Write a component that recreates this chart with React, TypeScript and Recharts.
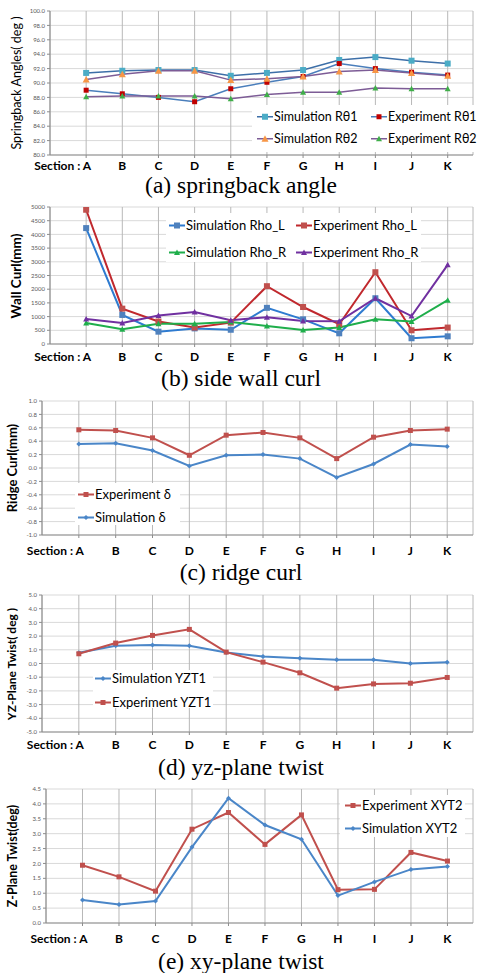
import React from 'react';
import { LineChart, Line, XAxis, YAxis, CartesianGrid } from 'recharts';

const sections = ['A', 'B', 'C', 'D', 'E', 'F', 'G', 'H', 'I', 'J', 'K'];

// (a) springback angle
const simR1 = [91.4, 91.7, 91.8, 91.8, 91.0, 91.4, 91.8, 93.2, 93.6, 93.1, 92.7];
const expR1 = [89.0, 88.5, 88.0, 87.4, 89.2, 90.1, 90.9, 92.7, 92.0, 91.5, 91.1];
const simR2 = [90.5, 91.2, 91.7, 91.7, 90.4, 90.6, 90.9, 91.6, 91.8, 91.4, 91.0];
const expR2 = [88.1, 88.2, 88.2, 88.2, 87.8, 88.4, 88.7, 88.7, 89.3, 89.2, 89.2];
const ticksA = [80, 82, 84, 86, 88, 90, 92, 94, 96, 98, 100];

// (b) side wall curl
const simRhoL = [4230, 1060, 450, 570, 520, 1320, 900, 390, 1670, 210, 280];
const expRhoL = [4900, 1290, 820, 600, 780, 2110, 1350, 720, 2620, 500, 600];
const simRhoR = [770, 540, 740, 740, 800, 660, 510, 600, 900, 820, 1600];
const expRhoR = [910, 770, 1040, 1170, 870, 980, 840, 830, 1670, 1020, 2890];
const ticksB = [0, 500, 1000, 1500, 2000, 2500, 3000, 3500, 4000, 4500, 5000];

// (c) ridge curl
const expDelta = [0.57, 0.56, 0.45, 0.19, 0.49, 0.53, 0.45, 0.14, 0.46, 0.56, 0.58];
const simDelta = [0.36, 0.37, 0.26, 0.03, 0.19, 0.2, 0.14, -0.14, 0.06, 0.35, 0.32];
const ticksC = [-1, -0.8, -0.6, -0.4, -0.2, 0, 0.2, 0.4, 0.6, 0.8, 1];

// (d) yz-plane twist
const simYZT1 = [0.78, 1.29, 1.35, 1.29, 0.8, 0.51, 0.39, 0.27, 0.27, 0.0, 0.1];
const expYZT1 = [0.71, 1.49, 2.05, 2.49, 0.83, 0.1, -0.68, -1.8, -1.49, -1.44, -1.02];
const ticksD = [-5, -4, -3, -2, -1, 0, 1, 2, 3, 4, 5];

// (e) xy-plane twist
const expXYT2 = [1.94, 1.55, 1.07, 3.15, 3.71, 2.64, 3.63, 1.12, 1.13, 2.37, 2.08];
const simXYT2 = [0.77, 0.62, 0.74, 2.55, 4.19, 3.29, 2.81, 0.92, 1.38, 1.8, 1.9];
const ticksE = [0, 0.5, 1, 1.5, 2, 2.5, 3, 3.5, 4, 4.5];

const FONT = 'Lato, "Open Sans", "DejaVu Sans", sans-serif';

type Shape = 'square' | 'triangle' | 'diamond';

const Marker = ({ cx, cy, shape, color, size }: any) => {
  if (cx == null || cy == null) return null;
  const s = size / 2;
  if (shape === 'square') {
    return <rect x={cx - s} y={cy - s} width={size} height={size} fill={color} />;
  }
  if (shape === 'triangle') {
    const pts = `${cx},${cy - s - 0.5} ${cx + s + 0.5},${cy + s} ${cx - s - 0.5},${cy + s}`;
    return <polygon points={pts} fill={color} />;
  }
  const pts = `${cx},${cy - s} ${cx + s},${cy} ${cx},${cy + s} ${cx - s},${cy}`;
  return <polygon points={pts} fill={color} />;
};

interface Series {
  key: string;
  name: string;
  values: number[];
  line: string;
  marker: string;
  shape: Shape;
  size: number;
  width: number;
}

interface LegendItem {
  key: string;
  x: number;
  y: number;
}

interface PanelProps {
  top: number;
  bottom: number;
  left: number;
  right: number;
  domain: [number, number];
  ticks: number[];
  fmt: (v: number) => string;
  yLabel: string;
  yLabelX: number;
  yLabelBold: boolean;
  yLabelSize: number;
  series: Series[];
  legendBox: { x: number; y: number; w: number; h: number };
  legendItems: LegendItem[];
  legendFont: number;
  labelY: number;
  caption: string;
  captionY: number;
}

const Panel = (p: PanelProps) => {
  const plotH = p.bottom - p.top;
  const mTop = 5;
  const xh = 24;
  const h = mTop + plotH + xh;
  const data = sections.map((s, i) => {
    const row: any = { idx: i, sec: s };
    p.series.forEach(se => (row[se.key] = se.values[i]));
    return row;
  });
  const labelLocal = mTop + plotH + (p.labelY - p.bottom);

  const SectionTick = (t: any) => {
    const v = t.payload.value;
    const common = {
      y: labelLocal,
      fontFamily: FONT,
      fontWeight: 700,
      fontSize: 12,
      fill: '#000',
      dominantBaseline: 'central' as const,
    };
    if (v === 0) {
      return (
        <text x={t.x + 5} textAnchor="end" {...common}>
          Section : A
        </text>
      );
    }
    return (
      <text x={t.x} textAnchor="middle" {...common}>
        {sections[v]}
      </text>
    );
  };

  const yMid = (p.top + p.bottom) / 2;

  return (
    <>
      <div style={{ position: 'absolute', left: 0, top: p.top - mTop, width: 479, height: h }}>
        <LineChart
          width={479}
          height={h}
          data={data}
          margin={{ top: mTop, right: 479 - p.right, left: 0, bottom: 0 }}
        >
          <CartesianGrid vertical={false} stroke="#d9d9d9" strokeWidth={1} />
          <CartesianGrid horizontal={false} stroke="#b8b8b8" strokeWidth={1} />
          <XAxis
            dataKey="idx"
            type="number"
            domain={[-1, 10.7]}
            ticks={[0, 1, 2, 3, 4, 5, 6, 7, 8, 9, 10]}
            interval={0}
            height={xh}
            stroke="#8c8c8c"
            tickSize={3}
            tick={SectionTick}
            allowDataOverflow
          />
          <YAxis
            type="number"
            domain={p.domain}
            ticks={p.ticks}
            interval={0}
            width={p.left}
            stroke="#8c8c8c"
            tickSize={3}
            tickMargin={2}
            tickFormatter={p.fmt}
            tick={{ fontSize: 6, fill: '#595959', fontFamily: FONT }}
            allowDataOverflow
          />
          {p.series.map(se => (
            <Line
              key={se.key}
              dataKey={se.key}
              name={se.name}
              type="linear"
              stroke={se.line}
              strokeWidth={se.width}
              isAnimationActive={false}
              activeDot={false}
              dot={(d: any) => (
                <Marker
                  key={`${se.key}-${d.index}`}
                  cx={d.cx}
                  cy={d.cy}
                  shape={se.shape}
                  color={se.marker}
                  size={se.size}
                />
              )}
            />
          ))}
        </LineChart>
      </div>

      {/* legend */}
      <div
        style={{
          position: 'absolute',
          left: p.legendBox.x,
          top: p.legendBox.y,
          width: p.legendBox.w,
          height: p.legendBox.h,
          background: '#fff',
        }}
      />
      {p.legendItems.map(li => {
        const se = p.series.find(s => s.key === li.key)!;
        return (
          <div
            key={li.key}
            style={{
              position: 'absolute',
              left: li.x,
              top: li.y,
              transform: 'translateY(-50%)',
              display: 'flex',
              alignItems: 'center',
              whiteSpace: 'nowrap',
              fontFamily: FONT,
              fontSize: p.legendFont,
              color: '#000',
              lineHeight: 1,
            }}
          >
            <svg width={16} height={10} style={{ marginRight: 1 }}>
              <line x1={0} y1={5} x2={16} y2={5} stroke={se.line} strokeWidth={se.width} />
              <Marker cx={8} cy={5} shape={se.shape} color={se.marker} size={se.size} />
            </svg>
            {se.name}
          </div>
        );
      })}

      {/* y label */}
      <div
        style={{
          position: 'absolute',
          left: p.yLabelX,
          top: yMid,
          transform: 'translate(-50%, -50%) rotate(-90deg)',
          whiteSpace: 'nowrap',
          fontFamily: FONT,
          fontWeight: p.yLabelBold ? 700 : 400,
          fontSize: p.yLabelSize,
          color: '#000',
          lineHeight: 1,
        }}
      >
        {p.yLabel}
      </div>

      {/* caption */}
      <div
        style={{
          position: 'absolute',
          left: 241,
          top: p.captionY,
          transform: 'translate(-50%, -50%)',
          whiteSpace: 'nowrap',
          fontFamily: '"Liberation Serif", "DejaVu Serif", serif',
          fontSize: 23.5,
          color: '#000',
          lineHeight: 1,
        }}
      >
        {p.caption}
      </div>
    </>
  );
};

const f1 = (v: number) => v.toFixed(1);
const f0 = (v: number) => String(v);

const App = () => {
  return (
    <div
      style={{
        position: 'absolute',
        left: 0,
        top: 0,
        width: 479,
        height: 973,
        overflow: 'hidden',
        background: '#fff',
      }}
    >
      <Panel
        top={11}
        bottom={155}
        left={50}
        right={473}
        domain={[80, 100]}
        ticks={ticksA}
        fmt={f1}
        yLabel="Springback Angles( deg )"
        yLabelX={17}
        yLabelBold={false}
        yLabelSize={12.5}
        series={[
          { key: 'simR1', name: 'Simulation Rθ1', values: simR1, line: '#3d6fa8', marker: '#4bacc6', shape: 'square', size: 6, width: 1.5 },
          { key: 'expR1', name: 'Experiment Rθ1', values: expR1, line: '#4a7ebb', marker: '#c00000', shape: 'square', size: 5, width: 1.5 },
          { key: 'simR2', name: 'Simulation Rθ2', values: simR2, line: '#7d5c96', marker: '#f79646', shape: 'triangle', size: 6, width: 1.5 },
          { key: 'expR2', name: 'Experiment Rθ2', values: expR2, line: '#7d5c96', marker: '#3fae49', shape: 'triangle', size: 5, width: 1.5 },
        ]}
        legendBox={{ x: 252, y: 105, w: 227, h: 47 }}
        legendItems={[
          { key: 'simR1', x: 257, y: 117 },
          { key: 'expR1', x: 371, y: 117 },
          { key: 'simR2', x: 257, y: 139 },
          { key: 'expR2', x: 371, y: 139 },
        ]}
        legendFont={12.5}
        labelY={165}
        caption="(a) springback angle"
        captionY={186}
      />
      <Panel
        top={207}
        bottom={344}
        left={50}
        right={473}
        domain={[0, 5000]}
        ticks={ticksB}
        fmt={f0}
        yLabel="Wall Curl(mm)"
        yLabelX={17}
        yLabelBold={true}
        yLabelSize={13.5}
        series={[
          { key: 'simRhoL', name: 'Simulation Rho_L', values: simRhoL, line: '#2e7bd0', marker: '#4f81bd', shape: 'square', size: 6, width: 2 },
          { key: 'expRhoL', name: 'Experiment Rho_L', values: expRhoL, line: '#c0282d', marker: '#c0504d', shape: 'square', size: 6, width: 2 },
          { key: 'simRhoR', name: 'Simulation Rho_R', values: simRhoR, line: '#1fae4b', marker: '#1fae4b', shape: 'triangle', size: 5, width: 2 },
          { key: 'expRhoR', name: 'Experiment Rho_R', values: expRhoR, line: '#7030a0', marker: '#7030a0', shape: 'triangle', size: 5, width: 2 },
        ]}
        legendBox={{ x: 166, y: 213, w: 255, h: 49 }}
        legendItems={[
          { key: 'simRhoL', x: 169, y: 225 },
          { key: 'expRhoL', x: 296, y: 225 },
          { key: 'simRhoR', x: 169, y: 252 },
          { key: 'expRhoR', x: 296, y: 252 },
        ]}
        legendFont={13}
        labelY={356}
        caption="(b) side wall curl"
        captionY={379}
      />
      <Panel
        top={401}
        bottom={535}
        left={42}
        right={473}
        domain={[-1, 1]}
        ticks={ticksC}
        fmt={f1}
        yLabel="Ridge Curl(mm)"
        yLabelX={12}
        yLabelBold={true}
        yLabelSize={13}
        series={[
          { key: 'expDelta', name: 'Experiment δ', values: expDelta, line: '#c0504d', marker: '#c0504d', shape: 'square', size: 5, width: 2 },
          { key: 'simDelta', name: 'Simulation δ', values: simDelta, line: '#4a86c8', marker: '#4a86c8', shape: 'diamond', size: 5, width: 2 },
        ]}
        legendBox={{ x: 75, y: 483, w: 105, h: 42 }}
        legendItems={[
          { key: 'expDelta', x: 78, y: 494 },
          { key: 'simDelta', x: 78, y: 517 },
        ]}
        legendFont={13}
        labelY={550}
        caption="(c) ridge curl"
        captionY={573}
      />
      <Panel
        top={595}
        bottom={732}
        left={42}
        right={473}
        domain={[-5, 5]}
        ticks={ticksD}
        fmt={f1}
        yLabel="YZ-Plane Twist( deg )"
        yLabelX={12}
        yLabelBold={true}
        yLabelSize={12}
        series={[
          { key: 'simYZT1', name: 'Simulation YZT1', values: simYZT1, line: '#4a86c8', marker: '#4a86c8', shape: 'diamond', size: 5, width: 2 },
          { key: 'expYZT1', name: 'Experiment YZT1', values: expYZT1, line: '#c0504d', marker: '#c0504d', shape: 'square', size: 5, width: 2 },
        ]}
        legendBox={{ x: 93, y: 670, w: 120, h: 38 }}
        legendItems={[
          { key: 'simYZT1', x: 95, y: 678 },
          { key: 'expYZT1', x: 95, y: 702 },
        ]}
        legendFont={13}
        labelY={744}
        caption="(d) yz-plane twist"
        captionY={768}
      />
      <Panel
        top={789}
        bottom={923}
        left={46}
        right={473}
        domain={[0, 4.5]}
        ticks={ticksE}
        fmt={f1}
        yLabel="Z-Plane Twist(deg)"
        yLabelX={13}
        yLabelBold={true}
        yLabelSize={12.5}
        series={[
          { key: 'expXYT2', name: 'Experiment XYT2', values: expXYT2, line: '#c0504d', marker: '#c0504d', shape: 'square', size: 5, width: 2 },
          { key: 'simXYT2', name: 'Simulation XYT2', values: simXYT2, line: '#4a86c8', marker: '#4a86c8', shape: 'diamond', size: 5, width: 2 },
        ]}
        legendBox={{ x: 340, y: 795, w: 125, h: 42 }}
        legendItems={[
          { key: 'expXYT2', x: 345, y: 805 },
          { key: 'simXYT2', x: 345, y: 828 },
        ]}
        legendFont={13}
        labelY={938}
        caption="(e) xy-plane twist"
        captionY={962}
      />
    </div>
  );
};

export default App;
